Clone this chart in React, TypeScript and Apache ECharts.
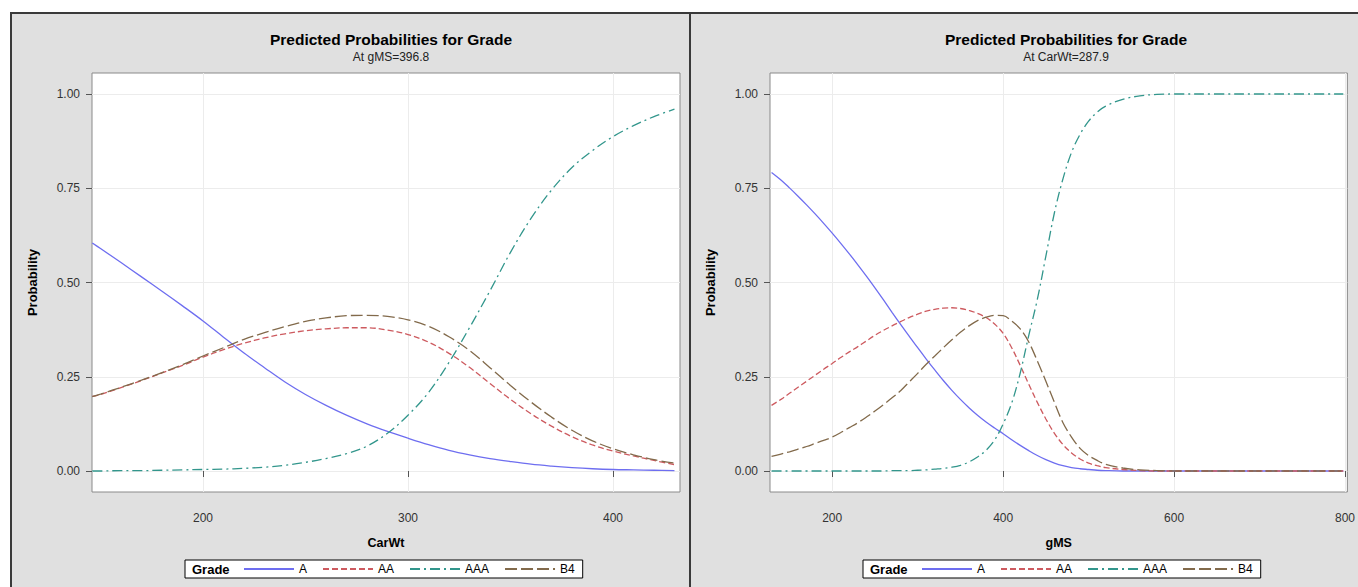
import React, { useEffect, useRef } from "react";
import * as echarts from "echarts";

// ---------- Data: left panel (at gMS = 396.8) ----------
const carWt = [146, 150, 160, 170, 180, 190, 200, 210, 220, 230, 240, 250, 260, 270, 280, 290, 300, 310, 320, 330, 340, 350, 360, 370, 380, 390, 400, 410, 420, 430];
const carA = [0.605, 0.59, 0.553, 0.515, 0.477, 0.438, 0.398, 0.355, 0.313, 0.274, 0.236, 0.203, 0.174, 0.148, 0.125, 0.105, 0.087, 0.07, 0.055, 0.043, 0.033, 0.025, 0.018, 0.013, 0.009, 0.006, 0.004, 0.003, 0.002, 0.001];
const carAA = [0.198, 0.203, 0.221, 0.24, 0.26, 0.28, 0.302, 0.322, 0.339, 0.353, 0.364, 0.372, 0.377, 0.38, 0.38, 0.374, 0.362, 0.342, 0.312, 0.275, 0.232, 0.19, 0.152, 0.119, 0.091, 0.069, 0.053, 0.04, 0.028, 0.017];
const carAAA = [0, 0, 0.001, 0.001, 0.002, 0.003, 0.004, 0.005, 0.007, 0.01, 0.015, 0.023, 0.033, 0.046, 0.066, 0.1, 0.148, 0.208, 0.288, 0.38, 0.478, 0.58, 0.67, 0.745, 0.805, 0.85, 0.887, 0.916, 0.94, 0.96];
const carB4 = [0.197, 0.204, 0.222, 0.241, 0.261, 0.282, 0.305, 0.327, 0.349, 0.367, 0.383, 0.397, 0.406, 0.412, 0.413, 0.41, 0.401, 0.384, 0.356, 0.32, 0.274, 0.227, 0.183, 0.143, 0.108, 0.08, 0.059, 0.043, 0.03, 0.021];

// ---------- Data: right panel (at CarWt = 287.9) ----------
const gms = [129, 140, 150, 160, 170, 180, 190, 200, 210, 220, 230, 240, 250, 260, 270, 280, 290, 300, 310, 320, 330, 340, 350, 360, 370, 380, 390, 400, 410, 420, 430, 440, 450, 460, 470, 480, 490, 500, 510, 520, 540, 560, 580, 600, 650, 700, 750, 798];
const gmsA = [0.792, 0.772, 0.751, 0.729, 0.706, 0.682, 0.657, 0.631, 0.604, 0.576, 0.547, 0.517, 0.486, 0.454, 0.421, 0.389, 0.358, 0.327, 0.297, 0.268, 0.24, 0.214, 0.19, 0.168, 0.148, 0.13, 0.114, 0.099, 0.083, 0.068, 0.054, 0.041, 0.03, 0.021, 0.014, 0.009, 0.006, 0.004, 0.002, 0.001, 0, 0, 0, 0, 0, 0, 0, 0];
const gmsAA = [0.174, 0.19, 0.206, 0.222, 0.238, 0.254, 0.27, 0.285, 0.301, 0.316, 0.33, 0.345, 0.36, 0.373, 0.385, 0.396, 0.407, 0.416, 0.424, 0.429, 0.432, 0.433, 0.431, 0.426, 0.418, 0.407, 0.39, 0.365, 0.327, 0.28, 0.23, 0.182, 0.138, 0.1, 0.07, 0.048, 0.032, 0.021, 0.014, 0.009, 0.004, 0.001, 0, 0, 0, 0, 0, 0];
const gmsAAA = [0, 0, 0, 0, 0, 0, 0, 0, 0, 0, 0, 0, 0, 0, 0.001, 0.001, 0.001, 0.002, 0.003, 0.005, 0.007, 0.01, 0.015, 0.024, 0.037, 0.055, 0.082, 0.125, 0.18, 0.26, 0.36, 0.455, 0.57, 0.685, 0.775, 0.845, 0.893, 0.928, 0.952, 0.968, 0.986, 0.995, 0.999, 1, 1, 1, 1, 1];
const gmsB4 = [0.039, 0.045, 0.051, 0.058, 0.065, 0.073, 0.081, 0.09, 0.102, 0.115, 0.128, 0.143, 0.159, 0.176, 0.194, 0.213, 0.236, 0.259, 0.283, 0.305, 0.327, 0.348, 0.368, 0.385, 0.399, 0.408, 0.413, 0.412, 0.398, 0.377, 0.342, 0.292, 0.238, 0.182, 0.128, 0.09, 0.06, 0.041, 0.028, 0.018, 0.008, 0.003, 0.001, 0, 0, 0, 0, 0];

const grades = ["A", "AA", "AAA", "B4"];
const yTicks = [0, 0.25, 0.5, 0.75, 1];
const carTicks = [200, 300, 400];
const gmsTicks = [200, 400, 600, 800];

const FONT = "'Liberation Sans', Arial, sans-serif";
const COLORS: Record<string, string> = { A: "#6e6ef0", AA: "#cd5a5f", AAA: "#32968c", B4: "#826a4b" };
const DASH: Record<string, any> = { A: "solid", AA: [6, 3], AAA: [10, 4, 2, 4], B4: [12, 4] };

function makeSeries(name: string, xs: number[], ys: number[], idx: number) {
  return {
    type: "line",
    name,
    xAxisIndex: idx,
    yAxisIndex: idx,
    data: xs.map((x, i) => [x, ys[i]]),
    showSymbol: false,
    symbol: "none",
    smooth: 0.35,
    lineStyle: { width: 1.3, color: COLORS[name], type: DASH[name] },
    itemStyle: { color: COLORS[name] },
    emphasis: { disabled: true },
  };
}

function xAxisCfg(idx: number, min: number, max: number, ticks: number[], name: string) {
  return {
    type: "value",
    gridIndex: idx,
    min,
    max,
    name,
    nameLocation: "middle",
    nameGap: 44,
    nameTextStyle: { fontFamily: FONT, fontSize: 12.5, fontWeight: "bold", color: "#000" },
    axisLine: { show: false },
    axisTick: { show: true, length: 6, customValues: ticks, lineStyle: { color: "#555" } },
    axisLabel: { customValues: ticks, margin: 20, fontFamily: FONT, fontSize: 12, color: "#333" },
    splitLine: { show: true, lineStyle: { color: "#ececec", width: 1 } },
  };
}

function yAxisCfg(idx: number) {
  return {
    type: "value",
    gridIndex: idx,
    min: -0.0557,
    max: 1.0557,
    name: "Probability",
    nameLocation: "middle",
    nameRotate: 90,
    nameGap: 53,
    nameTextStyle: { fontFamily: FONT, fontSize: 13, fontWeight: "bold", color: "#000" },
    axisLine: { show: false },
    axisTick: { show: true, length: 6, customValues: yTicks, lineStyle: { color: "#555" } },
    axisLabel: {
      customValues: yTicks,
      margin: 12,
      fontFamily: FONT,
      fontSize: 12,
      color: "#333",
      formatter: (v: number) => v.toFixed(2),
    },
    splitLine: { show: true, lineStyle: { color: "#ececec", width: 1 } },
  };
}

function legendCfg(left: number) {
  return {
    left,
    top: 560,
    orient: "horizontal",
    data: grades,
    itemWidth: 50,
    itemHeight: 10,
    itemGap: 15,
    padding: [3, 8, 3, 58],
    backgroundColor: "#ffffff",
    borderColor: "#000000",
    borderWidth: 1,
    borderRadius: 0,
    selectedMode: false,
    itemStyle: { opacity: 0, borderWidth: 0 },
    textStyle: { fontFamily: FONT, fontSize: 12, color: "#000" },
  };
}

export default function App() {
  const ref = useRef<HTMLDivElement>(null);

  useEffect(() => {
    if (!ref.current) return;
    const chart = echarts.init(ref.current, undefined, { renderer: "svg" });
    const option: any = {
      animation: false,
      backgroundColor: "#e0e0e0",
      textStyle: { fontFamily: FONT },
      graphic: [
        { type: "rect", shape: { x: 0, y: 0, width: 1358, height: 12 }, style: { fill: "#ffffff" }, silent: true },
        { type: "rect", shape: { x: 0, y: 0, width: 10, height: 587 }, style: { fill: "#ffffff" }, silent: true },
        { type: "line", shape: { x1: 10, y1: 13, x2: 1358, y2: 13 }, style: { stroke: "#3a3a3a", lineWidth: 2 }, silent: true },
        { type: "line", shape: { x1: 11, y1: 12, x2: 11, y2: 587 }, style: { stroke: "#3a3a3a", lineWidth: 2 }, silent: true },
        { type: "line", shape: { x1: 690, y1: 12, x2: 690, y2: 587 }, style: { stroke: "#3a3a3a", lineWidth: 2 }, silent: true },
        { type: "text", x: 192, y: 569, z: 100, style: { text: "Grade", fontFamily: FONT, fontSize: 13, fontWeight: "bold", fill: "#000", verticalAlign: "middle" } },
        { type: "text", x: 870, y: 569, z: 100, style: { text: "Grade", fontFamily: FONT, fontSize: 13, fontWeight: "bold", fill: "#000", verticalAlign: "middle" } },
      ],
      title: [
        {
          text: "Predicted Probabilities for Grade",
          subtext: "At gMS=396.8",
          left: 386,
          top: 26,
          textAlign: "center",
          itemGap: 4,
          textStyle: { fontFamily: FONT, fontSize: 15.5, fontWeight: "bold", color: "#000" },
          subtextStyle: { fontFamily: FONT, fontSize: 12, color: "#222" },
        },
        {
          text: "Predicted Probabilities for Grade",
          subtext: "At CarWt=287.9",
          left: 1061,
          top: 26,
          textAlign: "center",
          itemGap: 4,
          textStyle: { fontFamily: FONT, fontSize: 15.5, fontWeight: "bold", color: "#000" },
          subtextStyle: { fontFamily: FONT, fontSize: 12, color: "#222" },
        },
      ],
      grid: [
        { left: 92, top: 73, width: 588, height: 419, show: true, backgroundColor: "#ffffff", borderColor: "#8a8a8a", borderWidth: 1 },
        { left: 770, top: 73, width: 582, height: 419, show: true, backgroundColor: "#ffffff", borderColor: "#8a8a8a", borderWidth: 1 },
      ],
      xAxis: [
        xAxisCfg(0, 145.85, 432.7, carTicks, "CarWt"),
        xAxisCfg(1, 127.2, 802.8, gmsTicks, "gMS"),
      ],
      yAxis: [yAxisCfg(0), yAxisCfg(1)],
      legend: [legendCfg(185), legendCfg(863)],
      series: [
        makeSeries("A", carWt, carA, 0),
        makeSeries("AA", carWt, carAA, 0),
        makeSeries("AAA", carWt, carAAA, 0),
        makeSeries("B4", carWt, carB4, 0),
        makeSeries("A", gms, gmsA, 1),
        makeSeries("AA", gms, gmsAA, 1),
        makeSeries("AAA", gms, gmsAAA, 1),
        makeSeries("B4", gms, gmsB4, 1),
      ],
    };
    chart.setOption(option);
    return () => chart.dispose();
  }, []);

  return (
    <div
      ref={ref}
      style={{ position: "fixed", left: 0, top: 0, width: 1358, height: 587 }}
    />
  );
}
